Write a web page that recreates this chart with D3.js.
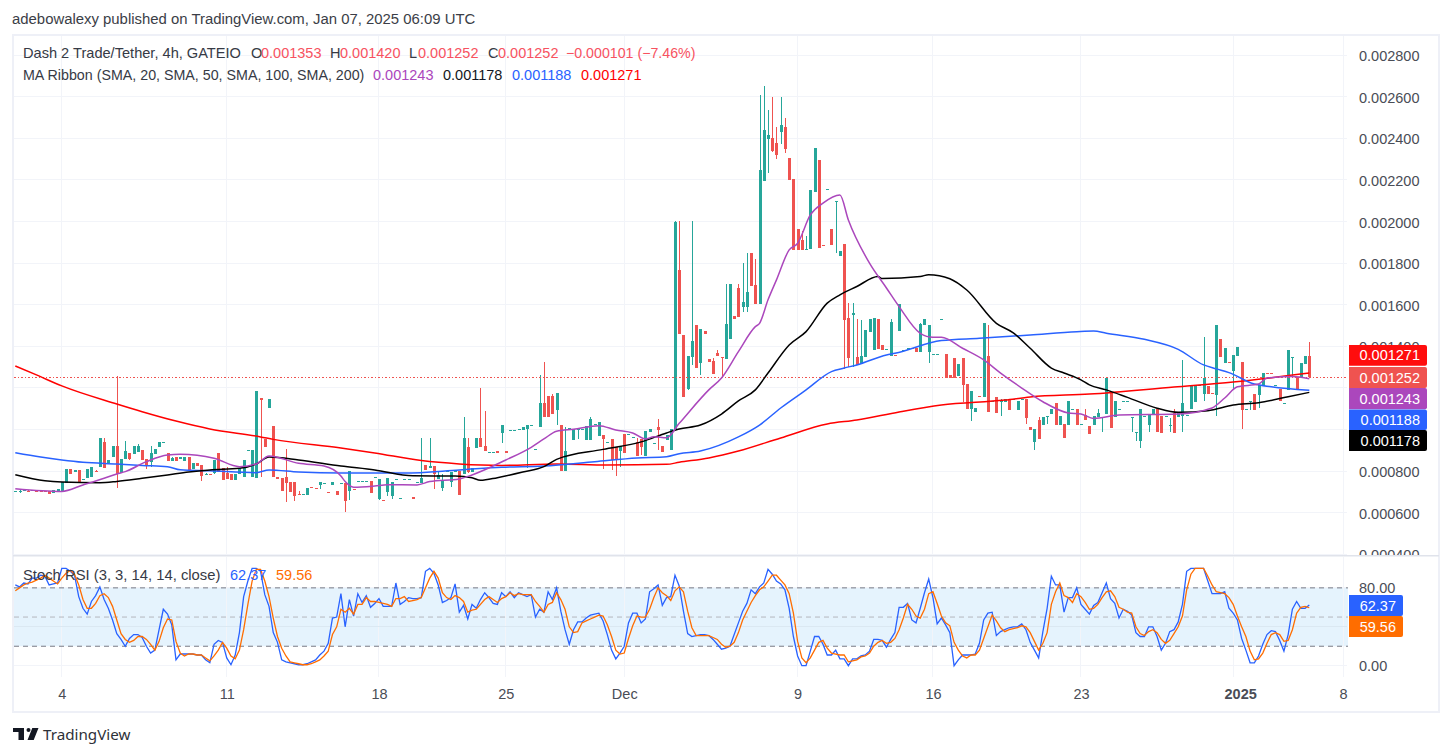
<!DOCTYPE html>
<html>
<head>
<meta charset="utf-8">
<script src="https://cdn.jsdelivr.net/npm/d3@7"></script>
<style>
  html, body { margin: 0; padding: 0; background: #fff; overflow: hidden; }
  svg { display: block; }
  text { font-family: "Liberation Sans", sans-serif; }
</style>
</head>
<body>
<div id="container"></div>
<script>
// Prices are in millionths of USDT, 4h bars in chart order
const candleOpen = [
  702,702,704,706,707,705,705,703,702,696, 699,705,742,808,797,805,757,766,771,802,
  819,939,837,867,920,789,858,887,882,891, 901,858,843,882,915,939,887,848,867,859,
  848,867,810,839,829,785,787,790,887,814, 790,786,757,786,771,901,771,766,1151,955,
  1103,1016,773,766,771,747,747,689,688,685, 724,719,733,742,700,733,704,741,742,704,
  713,750,750,750,752,770,665,660,699,680, 760,669,760,760,675,745,742,829,814,824,
  762,718,802,747,802,800,786,915,795,911, 959,920,893,890,895,983,896,996,996,1000,
  997,1002,1020,904,1012,1127,1161,1161,1093,1021, 800,1005,949,1002,1000,949,949,1024,968,973,
  938,954,915,896,980,976,962,939,954,872, 988,933,1012,920,949,901,1004,1766,1454,1194,
  1348,1502,1319,1473,1338,1329,1367,1347,1338,1434, 1545,1680,1588,1588,1848,1694,1603,2194,2396,2401,
  2377,2430,2454,2305,2204,1963,1910,1866,1867,2141, 2295,1886,2154,1963,2096,1834,1891,1535,1550,1348,
  1314,1348,1468,1381,1531,1406,1385,1353,1357,1473, 1381,1381,1391,1391,1372,1502,1372,1361,1361,1529,
  1362,1261,1343,1256,1343,1218,1098,1083,1160,1155, 1353,1135,1155,1134,1131,1146,1144,1093,1144,1146,
  1011,939,1045,1021,1059,1074,1127,1021,1026,1021, 1096,1098,1024,1069,1016,1021,1059,1058,1074,1173,
  1059,1096,1136,1136,1061,986,944,1064,1021,1074, 1098,1064,1064,1023,1079,1059,1064,1069,1098,1132,
  1212,1170,1210,1174,1165,1434,1319,1323,1281,1353, 1324,1098,1135,1170,1165,1208,1272,1272,1212,1194,
  1125,1189,1348,1252,1252,1314,1353
];
const candleClose = [
  703,703,707,705,707,704,704,702,691,707, 713,749,810,786,803,749,762,810,819,797,
  959,814,853,920,784,858,896,858,920,920, 853,824,887,906,939,939,848,863,848,867,
  867,805,839,824,776,786,786,853,795,757, 762,757,786,814,853,901,901,1185,1141,915,
  1146,771,763,704,742,699,680,688,688,718, 723,718,747,742,699,747,685,741,656,800,
  712,750,750,750,694,770,762,659,766,747, 760,669,760,760,665,745,766,805,824,786,
  781,752,802,797,802,685,959,795,814,959, 915,896,893,890,887,1021,887,996,996,1000,
  1012,1021,1020,904,1127,1060,1060,1074,1175,800, 896,1005,1002,1002,1000,1016,1050,1024,1036,954,
  938,853,853,920,887,976,962,872,915,992, 1002,933,997,891,973,1002,1997,1458,1156,1353,
  1425,1295,1482,1458,1324,1266,1353,1346,1507,1699, 1531,1540,1612,1660,1689,1603,2247,2439,2415,2338,
  2319,2463,2348,2199,1862,1862,1862,1866,2151,2353, 1872,1885,2154,1886,2096,1858,1526,1343,1560,1309,
  1353,1478,1531,1535,1386,1381,1385,1516,1356,1603, 1381,1391,1390,1372,1507,1531,1502,1361,1361,1529,
  1247,1247,1247,1314,1213,1098,1184,1103,1159,1511, 1083,1135,1078,1136,1146,1093,1144,1136,1144,1054,
  997,1002,953,1059,1066,1098,1021,1064,958,1136, 1096,1021,1024,1045,978,1064,1079,1060,1247,1007,
  1136,1096,1136,1136,1061,986,1098,1064,1074,1098, 987,982,1064,1023,982,1079,1127,1069,1208,1213,
  1212,1247,1170,1173,1502,1348,1391,1322,1358,1396, 1093,1098,1135,1093,1213,1271,1271,1271,1212,1136,
  1125,1382,1348,1189,1319,1353,1252
];
const candleHigh = [
  703,707,707,709,707,705,705,703,702,707, 713,749,810,808,803,805,762,810,819,806,
  959,959,853,920,1257,858,944,887,920,930, 901,858,920,906,939,939,887,867,867,867,
  867,867,839,839,829,789,787,853,887,814, 819,786,786,814,853,901,901,1185,1151,955,
  1146,1016,773,766,906,747,747,704,688,718, 724,719,747,742,700,747,704,741,742,800,
  713,750,750,750,752,770,762,660,766,747, 760,669,760,760,675,745,959,829,959,824,
  795,786,802,797,802,800,1060,959,814,959, 1199,1089,893,890,895,1021,896,996,996,1000,
  1012,1021,1020,904,1262,1324,1161,1170,1175,1021, 1012,1005,1002,1002,1000,1016,1060,1024,1036,973,
  938,954,915,920,980,976,962,959,954,992, 1002,933,1050,920,973,1002,2003,2002,1454,1353,
  2002,1502,1482,1473,1338,1343,1381,1347,1699,1699, 1545,1699,1800,1848,1848,1819,2608,2651,2536,2598,
  2454,2598,2497,2305,2204,1963,1954,1930,2151,2353, 2295,1886,2154,1963,2096,1858,1891,1607,1607,1531,
  1526,1478,1531,1535,1531,1406,1385,1531,1357,1603, 1381,1391,1391,1391,1513,1531,1502,1361,1361,1529,
  1362,1261,1343,1314,1343,1218,1184,1103,1160,1511, 1502,1135,1155,1146,1146,1146,1144,1136,1144,1146,
  1011,1002,1059,1059,1066,1098,1127,1064,1026,1136, 1096,1098,1024,1098,1016,1064,1098,1060,1247,1173,
  1136,1096,1136,1136,1061,986,1098,1064,1074,1098, 1098,1064,1064,1055,1098,1079,1333,1069,1208,1213,
  1212,1444,1210,1174,1502,1434,1391,1323,1358,1396, 1324,1098,1135,1170,1213,1271,1272,1272,1212,1194,
  1125,1382,1348,1252,1319,1353,1420
];
const candleLow = [
  702,696,704,699,707,704,704,702,691,696, 699,705,742,786,797,749,757,766,771,797,
  819,814,837,867,720,789,858,853,882,891, 853,810,819,882,915,939,848,848,848,859,
  848,805,810,824,752,781,786,786,795,757, 762,757,757,786,771,901,771,766,771,915,
  1103,771,763,704,651,699,656,688,688,685, 723,718,713,742,699,733,685,741,603,661,
  712,750,750,750,694,770,661,659,680,665, 760,669,760,760,665,745,742,805,814,713,
  762,704,802,723,802,685,786,790,795,911, 915,896,893,890,887,935,887,996,996,1000,
  997,814,1020,904,1012,1060,1060,1074,1021,800, 800,1005,949,954,1000,949,949,1024,968,810,
  938,805,776,819,887,976,962,872,877,872, 988,933,901,891,949,901,1004,1458,1156,1189,
  1309,1295,1261,1458,1324,1266,1353,1245,1338,1434, 1531,1540,1564,1564,1689,1603,1603,2194,2233,2334,
  2300,2372,2329,2199,1862,1862,1862,1866,1867,2141, 1872,1885,2154,1886,1848,1834,1290,1300,1300,1309,
  1314,1348,1468,1381,1386,1381,1385,1353,1356,1473, 1381,1381,1390,1372,1372,1502,1319,1361,1361,1529,
  1247,1247,1247,1256,1131,1098,1040,1083,1159,1155, 1083,1135,1078,1064,1131,1093,1144,1093,1144,1026,
  997,901,953,1021,1026,1074,1021,1021,958,1021, 1096,1021,1024,1045,978,1021,1059,987,1074,1007,
  1059,1096,1136,1136,987,944,912,1064,987,1074, 987,982,1064,987,982,1059,987,1069,1098,1132,
  1212,1136,1170,1173,1064,1348,1319,1322,1194,1353, 1002,1098,1093,1093,1103,1208,1271,1271,1212,1136,
  1125,1189,1245,1189,1252,1314,1252
];

// MA ribbon, read at the bars where each line bends
const sma20Bars = [0,11,16,21,24,26,31,36,39,47,53,57,60,67,73,77,78,80,85,88,95,98,105,108,116,122,125,128,132,138,142,146,149,151,154,157,164,167,171,175,176,178,180,183,185,188,191,195,197,202,206,209,214,217,219,224,229,233,238,243,249,252,255,261,275,283,286,289,294,296,302,306];
const sma20 = [715,702,733,765,786,797,845,877,880,861,821,834,872,837,824,776,749,722,728,734,733,749,762,781,853,914,954,991,1001,1018,997,983,954,965,960,1029,1190,1247,1374,1494,1510,1623,1719,1863,1895,2031,2088,2127,2007,1799,1680,1590,1462,1443,1443,1390,1334,1271,1199,1133,1079,1074,1053,1069,1074,1103,1151,1205,1218,1247,1254,1243];
const sma50Bars = [0,7,11,20,24,30,36,41,46,53,57,60,67,77,85,94,104,108,110,114,120,125,128,139,148,154,157,162,167,171,175,178,183,187,192,195,199,204,205,214,216,221,225,232,236,240,245,248,252,254,258,263,270,275,282,288,294,301,306];
const sma50 = [782,753,747,744,750,765,781,795,805,813,834,867,853,824,805,777,776,768,755,768,795,821,856,904,940,983,1002,1021,1074,1137,1190,1271,1406,1470,1607,1647,1687,1735,1725,1735,1744,1724,1670,1510,1464,1390,1295,1271,1238,1214,1190,1154,1102,1082,1090,1117,1128,1157,1178];
const sma100Bars = [0,6,11,16,24,30,36,39,46,57,60,67,77,92,105,115,125,137,147,154,157,162,171,176,181,187,193,196,199,206,208,219,228,240,251,255,258,267,275,281,284,287,293,297,306];
const sma100 = [888,867,853,842,834,827,821,806,801,792,805,795,790,790,805,818,824,845,863,869,883,896,964,1021,1103,1190,1278,1295,1310,1358,1366,1427,1438,1454,1470,1473,1462,1433,1385,1310,1291,1273,1218,1205,1188];
const sma200Bars = [0,5,11,24,30,38,46,58,61,77,85,96,105,115,128,140,154,157,164,171,181,192,199,209,219,234,240,254,274,288,306];
const sma200 = [1305,1262,1209,1122,1085,1040,1002,964,952,911,887,850,834,827,834,829,832,842,863,896,959,1026,1045,1084,1117,1141,1156,1170,1204,1228,1271];

// Stoch RSI, one value per bar
const stochK = [
  83,81,85,84,90,90,93,92,83,84, 85,100,100,97,93,71,59,53,66,72,
  81,68,59,47,33,27,20,28,32,32, 29,20,13,16,37,58,53,42,6,12,
  12,12,12,11,11,6,3,22,26,24, 8,1,11,34,71,87,100,100,97,73,
  61,34,24,6,4,3,2,1,1,2, 4,6,11,15,23,49,50,74,40,68,
  51,74,65,72,60,64,69,61,61,61, 85,63,66,70,69,69,70,97,100,95,
  83,65,67,70,84,55,62,48,63,59, 68,75,70,64,63,75,71,76,70,75,
  73,71,73,50,58,55,76,68,80,56, 37,22,37,45,45,49,52,53,54,46,
  32,16,7,13,20,44,54,54,44,48, 76,79,83,62,70,71,93,82,56,33,
  30,31,32,32,31,27,22,17,18,20, 32,44,56,64,78,74,81,85,99,94,
  87,84,78,59,30,10,0,0,15,30, 30,22,11,11,16,7,7,0,7,7,
  10,11,15,27,27,26,19,27,34,60, 60,64,47,44,59,75,89,70,43,49,
  42,34,0,6,11,11,11,12,23,47, 54,55,31,35,37,39,40,40,43,37,
  24,16,8,35,59,92,83,83,55,70, 70,80,63,58,53,62,65,75,85,69,
  64,49,58,56,52,34,30,30,40,40, 30,16,23,35,37,45,63,97,100,100,
  100,100,87,74,74,74,76,59,54,47, 28,16,3,3,10,22,32,36,35,26,
  15,32,58,66,59,59,62.37
];
const stochD = [
  77,80,83,85,86,88,90,93,90,87, 84,90,95,98,94,83,68,59,59,64,
  72,74,70,61,47,33,27,24,26,30, 30,27,22,16,25,39,48,47,25,13,
  10,12,12,11,11,8,5,10,16,24, 18,10,7,16,37,63,87,99,99,87,
  71,49,30,18,10,4,3,2,1,1, 2,4,6,10,15,32,40,58,55,59,
  53,63,63,70,66,66,65,64,63,61, 69,69,71,66,67,68,70,80,90,97,
  90,75,70,68,72,70,66,55,57,58, 63,68,71,68,65,69,71,75,72,74,
  73,73,73,66,61,55,63,65,75,68, 58,40,34,35,44,46,48,50,52,51,
  42,30,16,12,13,28,41,51,50,50, 58,70,80,75,72,67,77,81,76,56,
  39,31,31,31,31,29,27,22,19,20, 24,34,47,56,65,72,78,81,87,93,
  93,88,83,74,54,25,8,3,8,16, 24,26,18,13,12,11,11,4,5,6,
  9,10,13,20,24,26,23,24,28,37, 49,63,58,51,49,58,74,76,64,51,
  44,41,24,16,10,8,11,11,16,28, 40,52,46,39,35,37,38,39,41,40,
  34,25,16,23,34,63,76,85,72,70, 65,74,71,65,58,59,63,70,76,77,
  71,60,58,55,54,40,33,31,35,37, 34,27,23,26,33,40,51,78,94,100,
  100,100,92,83,76,75,74,70,63,51, 40,30,15,6,7,13,23,32,34,32,
  25,26,37,54,60,61,59.56
];

// Axis labels: the grid has every price step, 0.001200 and 0.001000 sit behind the value tags
const priceGrid = [2800,2600,2400,2200,2000,1800,1600,1400,1200,1000,800,600,400];
const priceTicks = [2800,2600,2400,2200,2000,1800,1600,1400,800,600,400];
const rsiTicks = [80,0];
const rsiGrid = [80,40,0];
const dateBars = [11,50,86,116,144,185,217,252,288,314];
const dateLabels = ["4","11","18","25","Dec","9","16","23","2025","8"];

const lastPrice = 1252;

const GREEN = "#26a69a", RED = "#ef5350";
const GRID = "#f2f4f9", FRAME = "#eef0f7";
const width = 1453, height = 756;
const paneLeft = 14, paneRight = 1347;

const svg = d3.select("#container").append("svg")
  .attr("width", width).attr("height", height);

svg.append("defs").append("clipPath").attr("id", "priceClip")
  .append("rect").attr("x", 0).attr("y", 36).attr("width", width).attr("height", 519);

const x = d3.scaleLinear().domain([0, 306]).range([15.3, 1309.3]);
const y = d3.scaleLinear().domain([400, 2800]).range([554.2, 55]);
const yRsi = d3.scaleLinear().domain([0, 100]).range([665.7, 568.4]);

// Frame and pane divider
svg.append("rect").attr("x", 13).attr("y", 35).attr("width", 1426).attr("height", 677)
  .attr("fill", "none").attr("stroke", FRAME).attr("stroke-width", 2);
svg.append("rect").attr("x", 13).attr("y", 555).attr("width", 1426).attr("height", 1.5)
  .attr("fill", "#e0e3eb");

// Grid
const grid = svg.append("g").attr("stroke", GRID).attr("stroke-width", 1).attr("shape-rendering", "crispEdges");
grid.selectAll(".gy").data(priceGrid).enter().append("line")
  .attr("x1", paneLeft).attr("x2", paneRight)
  .attr("y1", d => y(d)).attr("y2", d => y(d));
dateBars.forEach(b => {
  grid.append("line").attr("x1", x(b)).attr("x2", x(b)).attr("y1", 36).attr("y2", 555);
  grid.append("line").attr("x1", x(b)).attr("x2", x(b)).attr("y1", 557).attr("y2", 677);
});

// Stoch RSI band under its grid
svg.append("rect").attr("x", paneLeft).attr("width", paneRight + 1 - paneLeft)
  .attr("y", yRsi(80)).attr("height", yRsi(20) - yRsi(80))
  .attr("fill", "#e5f3fd");
grid.raise();
grid.selectAll(".gr").data(rsiGrid).enter().append("line")
  .attr("x1", paneLeft).attr("x2", paneRight)
  .attr("y1", d => yRsi(d)).attr("y2", d => yRsi(d))
  .attr("stroke", d => d === 40 ? "#dbe8f2" : GRID);

// Candles
const bars = d3.range(candleOpen.length);
const barColor = i => candleClose[i] >= candleOpen[i] ? GREEN : RED;
const candles = svg.append("g").attr("shape-rendering", "crispEdges");
candles.selectAll(".wick").data(bars).enter().append("rect")
  .attr("x", i => Math.round(x(i)))
  .attr("width", 1)
  .attr("y", i => y(candleHigh[i]))
  .attr("height", i => y(candleLow[i]) - y(candleHigh[i]))
  .attr("fill", barColor);
candles.selectAll(".body").data(bars).enter().append("rect")
  .attr("x", i => Math.round(x(i)) - 1)
  .attr("width", 3)
  .attr("y", i => y(Math.max(candleOpen[i], candleClose[i])))
  .attr("height", i => Math.max(1, Math.abs(y(candleOpen[i]) - y(candleClose[i]))))
  .attr("fill", barColor);

// Last price line
svg.append("line").attr("x1", paneLeft).attr("x2", paneRight)
  .attr("y1", Math.round(y(lastPrice)) + 0.5).attr("y2", Math.round(y(lastPrice)) + 0.5)
  .attr("stroke", RED).attr("stroke-width", 1).attr("stroke-dasharray", "1.5 2")
  .attr("shape-rendering", "crispEdges");

// MA ribbon lines
const ribbon = [
  { bars: sma200Bars, values: sma200, color: "#ff0000" },
  { bars: sma100Bars, values: sma100, color: "#2962ff" },
  { bars: sma50Bars, values: sma50, color: "#000000" },
  { bars: sma20Bars, values: sma20, color: "#ab47bc" }
];
ribbon.forEach(ma => {
  const line = d3.line().x(i => x(ma.bars[i])).y(i => y(ma.values[i])).curve(d3.curveMonotoneX);
  svg.append("path").attr("d", line(d3.range(ma.bars.length)))
    .attr("fill", "none").attr("stroke", ma.color).attr("stroke-width", 1.5);
});

// Stoch RSI levels
[[80, "#787b86", "5 4"], [50, "#b4b6bd", "5 4"], [20, "#787b86", "5 4"]].forEach(l => {
  svg.append("line").attr("x1", paneLeft).attr("x2", paneRight + 1)
    .attr("y1", yRsi(l[0])).attr("y2", yRsi(l[0]))
    .attr("stroke", l[1]).attr("stroke-dasharray", l[2]);
});

// Stoch RSI lines
const rsiLine = d3.line().x((d, i) => x(i)).y(d => yRsi(d));
svg.append("path").attr("d", rsiLine(stochK)).attr("fill", "none").attr("stroke", "#2962ff").attr("stroke-width", 1.3);
svg.append("path").attr("d", rsiLine(stochD)).attr("fill", "none").attr("stroke", "#ff6d00").attr("stroke-width", 1.3);

// Axes
function styleAxis(g) {
  g.select(".domain").remove();
  g.selectAll(".tick line").remove();
  g.selectAll(".tick text").attr("fill", "#4a4d56").style("font-size", "14.5px")
    .style("font-family", '"Liberation Sans", sans-serif');
}
svg.append("g").attr("clip-path", "url(#priceClip)").append("g")
  .attr("transform", "translate(1350,1)")
  .call(d3.axisRight(y).tickValues(priceTicks).tickSize(0).tickPadding(9).tickFormat(d => (d / 1e6).toFixed(6)))
  .call(styleAxis);
svg.append("g").attr("transform", "translate(1350,0)")
  .call(d3.axisRight(yRsi).tickValues(rsiTicks).tickSize(0).tickPadding(9).tickFormat(d => d.toFixed(2)))
  .call(styleAxis);
svg.append("g").attr("transform", "translate(0,689)")
  .call(d3.axisBottom(x).tickValues(dateBars).tickSize(0).tickPadding(0).tickFormat((d, i) => dateLabels[i]))
  .call(styleAxis)
  .selectAll(".tick text").filter(d => d === 288)
  .attr("dx", 7).style("font-weight", "bold");

// Value tags on the price scale
function tag(yTop, h, w, color, str) {
  svg.append("path")
    .attr("d", `M1349,${yTop}h${w - 2}a2,2 0 0 1 2,2v${h - 4}a2,2 0 0 1 -2,2h-${w - 2}z`)
    .attr("fill", color);
  svg.append("text").attr("x", 1349 + w - 7).attr("y", yTop + h / 2 + 5)
    .attr("text-anchor", "end").attr("fill", "#fff").style("font-size", "14.5px").text(str);
}
tag(345, 20.7, 78, "#ff0d0d", "0.001271");
tag(367, 21, 78, RED, "0.001252");
tag(388, 21.3, 78, "#ab47bc", "0.001243");
tag(409.4, 20.7, 78, "#2962ff", "0.001188");
tag(430, 21, 78, "#000000", "0.001178");
tag(595, 21, 54, "#2962ff", "62.37");
tag(616, 21, 54, "#ff6d00", "59.56");

// Header and legends
function label(xPos, yPos, str, color, size) {
  return svg.append("text").attr("x", xPos).attr("y", yPos).attr("fill", color)
    .style("font-size", (size || 14.5) + "px").text(str);
}
const INK = "#363a45", LOSS = "#f7525f";
label(12, 24, "adebowalexy published on TradingView.com, Jan 07, 2025 06:09 UTC", "#3b3e47", 14.9);

label(23, 58, "Dash 2 Trade/Tether, 4h, GATEIO", INK, 14.6);
label(251, 58, "O", INK); label(261, 58, "0.001353", LOSS);
label(330, 58, "H", INK); label(340, 58, "0.001420", LOSS);
label(409, 58, "L", INK); label(418, 58, "0.001252", LOSS);
label(488, 58, "C", INK); label(498, 58, "0.001252", LOSS);
label(566, 58, "\u22120.000101 (\u22127.46%)", LOSS, 14.2);

label(23, 80, "MA Ribbon (SMA, 20, SMA, 50, SMA, 100, SMA, 200)", INK, 14.25);
label(373, 80, "0.001243", "#ab47bc");
label(443, 80, "0.001178", "#131722");
label(512, 80, "0.001188", "#2962ff");
label(581, 80, "0.001271", "#ff0000");

label(23, 580, "Stoch RSI (3, 3, 14, 14, close)", INK, 14.8);
label(230, 580, "62.37", "#2962ff");
label(276, 580, "59.56", "#ff6d00");

// Footer logo
svg.append("path").attr("fill", "#131722")
  .attr("d", "M13 728h11v12h-5.5v-8H13zM27.5 740l4.8-12H38.5l-4.8 12z");
svg.append("circle").attr("cx", 28.5).attr("cy", 730).attr("r", 2).attr("fill", "#131722");
svg.append("text").attr("x", 43).attr("y", 740).attr("fill", "#2e3138")
  .style("font-family", '"Noto Sans", sans-serif').style("font-size", "15.2px").text("TradingView");
</script>
</body>
</html>
